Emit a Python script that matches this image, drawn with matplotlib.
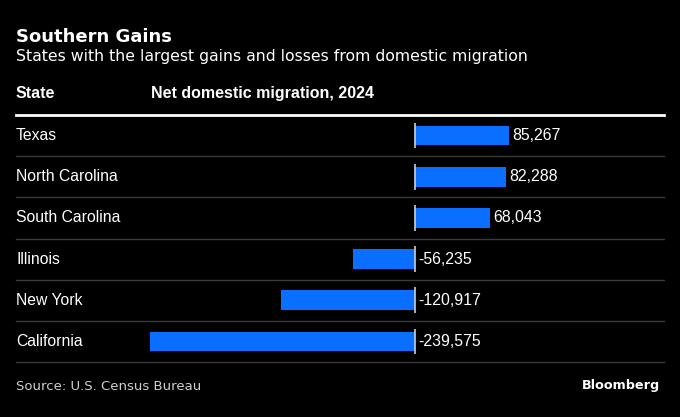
import matplotlib.pyplot as plt
from matplotlib.transforms import blended_transform_factory, offset_copy

# data
states = ["Texas", "North Carolina", "South Carolina", "Illinois", "New York", "California"]
migration = [85267, 82288, 68043, -56235, -120917, -239575]

bar_color = "#0a6eff"
W, H = 680, 417

fig = plt.figure(figsize=(6.8, 4.17), dpi=100, facecolor="black")

# plot area in pixels: x 16..664, y 115..362 (from top)
left, right, top, bottom = 16, 664, 115, 362
ax = fig.add_axes([left / W, 1 - bottom / H, (right - left) / W, (bottom - top) / H])
ax.set_facecolor("black")
for s in ax.spines.values():
    s.set_visible(False)
ax.set_xticks([])
ax.set_yticks([])

# zero at x=415 px, -239575 at 150 px
upp = 239575 / (415 - 150)
ax.set_xlim(-(415 - left) * upp, (right - 415) * upp)
ax.set_ylim(len(states), 0)

ys = [i + 0.5 for i in range(len(states))]
ax.barh(ys, migration, height=0.48, color=bar_color, zorder=2)
ax.vlines([0] * len(ys), [y - 0.31 for y in ys], [y + 0.31 for y in ys],
          color="#c8d0e0", lw=1.2, zorder=3)

# row lines
ax.axhline(0, color="white", lw=2, zorder=1, clip_on=False)
for i in range(1, len(states) + 1):
    ax.axhline(i, color="#3a3a3a", lw=1, zorder=1, clip_on=False)

tr = blended_transform_factory(ax.transAxes, ax.transData)
for y, name, v in zip(ys, states, migration):
    ax.text(0, y, name, transform=tr, color="white", fontsize=11.3,
            family="Liberation Sans", va="center", ha="left")
    xv = v if v > 0 else 0
    ax.text(xv, y, f"{v:,}", color="white", fontsize=11.4, family="Liberation Sans",
            va="center", ha="left",
            transform=offset_copy(ax.transData, fig=fig, x=3, y=0, units="dots"))

# titles and headers
fig.text(16 / W, 1 - 42 / H, "Southern Gains", color="white", fontsize=13,
         fontweight="bold", family="DejaVu Sans", va="baseline")
fig.text(16 / W, 1 - 61 / H, "States with the largest gains and losses from domestic migration",
         color="white", fontsize=11.33, family="DejaVu Sans", va="baseline")
fig.text(16 / W, 1 - 98 / H, "State", color="white", fontsize=11.5, fontweight="bold",
         family="Liberation Sans", va="baseline")
fig.text(151 / W, 1 - 98 / H, "Net domestic migration, 2024", color="white", fontsize=11.5,
         fontweight="bold", family="Liberation Sans", va="baseline")

fig.text(16 / W, 1 - 390 / H, "Source: U.S. Census Bureau", color="#d0d0d0", fontsize=9.5,
         family="DejaVu Sans", va="baseline")
fig.text(660 / W, 1 - 389 / H, "Bloomberg", color="white", fontsize=9.2, fontweight="bold",
         family="DejaVu Sans", va="baseline", ha="right")

fig.savefig("out.png", dpi=100, facecolor="black")
